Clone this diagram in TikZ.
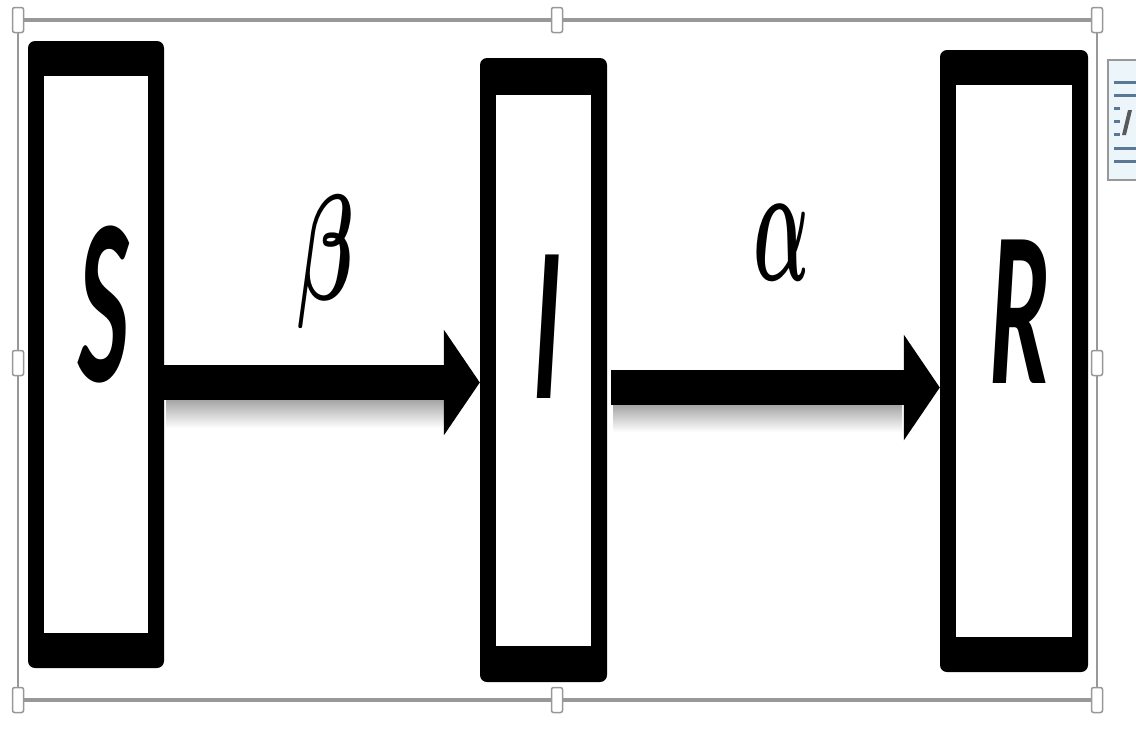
\documentclass[tikz,border=0pt]{standalone}
\usepackage{fontspec}
\setsansfont{Carlito}
\usetikzlibrary{arrows.meta}
\definecolor{framegray}{RGB}{152,152,152}
\definecolor{iconblue}{RGB}{90,120,150}
\definecolor{iconfill}{RGB}{235,245,250}
\tikzset{
  boxouter/.style={fill=black, rounded corners=7pt, inner sep=0pt, draw=none},
  boxinner/.style={fill=white, inner sep=0pt, draw=none},
  letter/.style={inner sep=0pt, anchor=base, font=\sffamily\bfseries\itshape\fontsize{108}{108}\selectfont},
  greek/.style={inner sep=0pt, anchor=center},
  flow/.style={line width=35pt, -{Triangle[length=36pt,width=104pt]}},
  handle/.style={draw=framegray, line width=1.5pt, fill=white, rounded corners=2pt, minimum width=11pt, minimum height=25pt, inner sep=0pt},
}
\begin{document}
\begin{tikzpicture}[x=1pt,y=-1pt]
\useasboundingbox (0,0) rectangle (1136,740);
\fill[white] (0,0) rectangle (1136,740);
% selection frame
\draw[framegray, line width=3.5pt] (18,20) -- (1097,20);
\draw[framegray, line width=3.5pt] (18,700) -- (1097,700);
\draw[framegray, line width=2pt] (18,20) -- (18,700);
\draw[framegray, line width=2pt] (1097,20) -- (1097,700);
\foreach \hx/\hy/\hn in {18/20/a,557/20/b,1097/20/c,18/363/d,1097/363/e,18/700/f,557/700/g,1097/700/h}
  \node[handle] (h\hn) at (\hx,\hy) {};
% layout icon at right edge
\draw[framegray, line width=1.5pt, fill=iconfill] (1140,60) -- (1108,60) -- (1108,180) -- (1140,180);
\foreach \ly/\lx in {82/1136,95/1136,108/1120,121/1120,134/1120,148/1136,161/1136}
  \draw[iconblue, line width=3pt] (1114,\ly) -- (\lx,\ly);
\fill[black!65] (1122,135) -- (1128,110) -- (1132,110) -- (1126,135) -- cycle;
% boxes
\node[boxouter, minimum width=136pt, minimum height=627pt] (S) at (96,354.5) {};
\node[boxinner, minimum width=104pt, minimum height=557pt] (Sin) at (96,354.5) {};
\node[boxouter, minimum width=127pt, minimum height=624pt] (I) at (543.5,370) {};
\node[boxinner, minimum width=95pt, minimum height=551pt] (Iin) at (543.5,370.5) {};
\node[boxouter, minimum width=148pt, minimum height=622pt] (R) at (1014,361) {};
\node[boxinner, minimum width=116pt, minimum height=552pt] (Rin) at (1014,361) {};
% shadows under arrows
\shade[top color=black!35, bottom color=white] (166,400) rectangle (452,428);
\shade[top color=black!35, bottom color=white] (613,405) rectangle (902,432);
% arrows
\coordinate (a1s) at (S.east |- 0,382.5);
\coordinate (a1e) at (I.west |- 0,382.5);
\coordinate (a2s) at (611,387.5);
\coordinate (a2e) at (R.west |- 0,387.5);
\draw[flow] (a1s) -- (a1e);
\draw[flow] (a2s) -- (a2e);
% letters
\node[letter] (tS) at (104,381) {\scalebox{1}[2.2]{S}};
\node[letter] (tI) at (547,398) {\scalebox{1}[2.05]{I}};
\node[letter] (tR) at (1020,383) {\scalebox{1}[2.05]{R}};
\node[greek] (tb) at (326,262) {\scalebox{8.2}[15]{\boldmath$\beta$}};
\node[greek] (ta) at (782,243) {\scalebox{7.4}[17]{\boldmath$\alpha$}};
\end{tikzpicture}
\end{document}
